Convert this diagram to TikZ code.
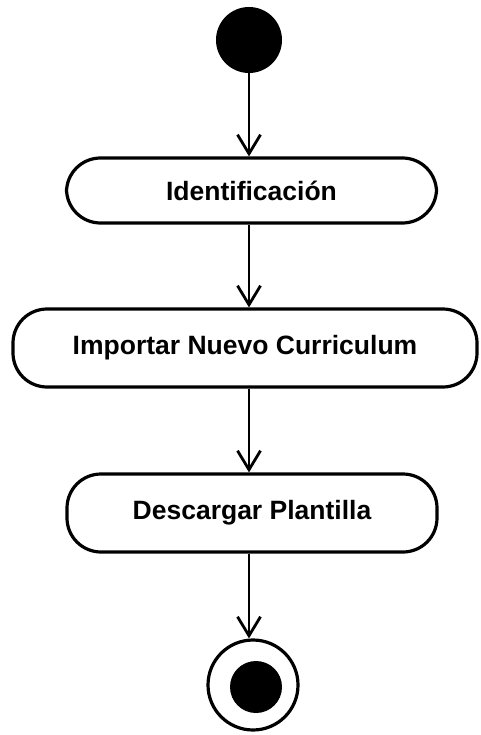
\documentclass[tikz,border=0pt]{standalone}
\usepackage{fontspec}
\setmainfont{Liberation Sans}
\usetikzlibrary{arrows.meta}
\begin{document}
\begin{tikzpicture}[x=1pt,y=-1pt,
  activity/.style={draw=black, line width=3.2pt, rounded corners=34pt, inner sep=0pt,
    font=\fontsize{26.5}{30}\selectfont\bfseries, align=center},
  flow/.style={draw=black, line width=2.8pt, -{Straight Barb[length=19pt,width=23pt,line width=2.8pt]}},
  startdot/.style={circle, fill=black, inner sep=0pt, minimum size=66pt},
  enddot/.style={circle, draw=black, line width=3.2pt, inner sep=0pt, minimum size=90pt}
]
\useasboundingbox (0,0) rectangle (480,735);
\node[startdot] (start) at (249,40) {};
\node[activity, minimum width=370pt, minimum height=65pt] (n1) at (251.5,190.5) {Identificación};
\node[activity, minimum width=464pt, minimum height=78pt] (n2) at (245,348) {Importar Nuevo Curriculum};
\node[activity, minimum width=370pt, minimum height=78pt] (n3) at (252,513) {Descargar Plantilla};
\node[enddot] (endc) at (253,685) {};
\node[circle, fill=black, inner sep=0pt, minimum size=52pt] (endin) at (256,687) {};
\draw[flow] (start.south) -- (start.south |- n1.north);
\draw[flow] (start.south |- n1.south) -- (start.south |- n2.north);
\draw[flow] (start.south |- n2.south) -- (start.south |- n3.north);
\draw[flow] (start.south |- n3.south) -- (start.south |- endc.north);
\end{tikzpicture}
\end{document}
